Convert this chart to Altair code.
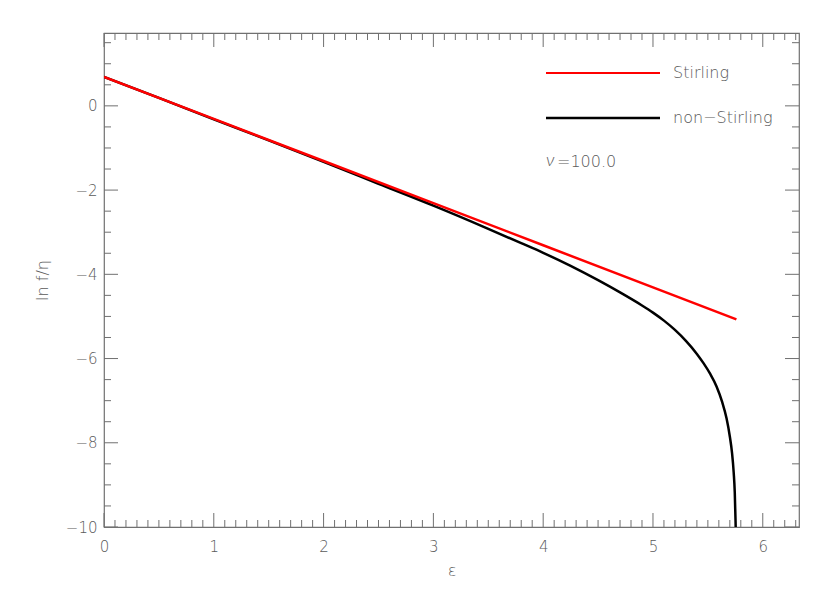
import altair as alt
import pandas as pd
import numpy as np

# ---- data ----
eps_stirling = [0.0, 1.0, 2.0, 3.0, 4.0, 5.0, 5.76]
ln_stirling = [0.69, -0.31, -1.31, -2.31, -3.31, -4.31, -5.07]

eps_non = [0.0, 0.5, 1.0, 1.5, 2.0, 2.5, 3.0, 3.5, 3.8, 4.0, 4.25, 4.5, 4.7,
           4.9, 5.0, 5.1, 5.2, 5.3, 5.4, 5.46, 5.52, 5.58, 5.63, 5.67, 5.70,
           5.72, 5.735, 5.745, 5.752, 5.756]
ln_non = [0.69, 0.19, -0.32, -0.82, -1.33, -1.85, -2.37, -2.92, -3.26, -3.49,
          -3.80, -4.14, -4.43, -4.74, -4.91, -5.10, -5.32, -5.58, -5.89, -6.11,
          -6.36, -6.67, -7.03, -7.42, -7.85, -8.24, -8.70, -9.18, -9.85, -10.3]

x_major = [0, 1, 2, 3, 4, 5, 6]
x_minor = [round(v, 1) for v in np.arange(0.1, 6.31, 0.1) if abs(v - round(v)) > 1e-6]
y_major = [-10, -8, -6, -4, -2, 0]
y_minor = [v for v in np.arange(-9.5, 1.51, 0.5).tolist() if v % 2 != 0]

x_domain = [0, 6.33]
y_domain = [-10, 1.73]

W, H = 695, 494
GRAY = "#5a5a5a"
AXIS_GRAY = "#707070"
FONT = "DejaVu Sans"
FW = 200

xs = alt.Scale(domain=x_domain, nice=False, zero=False)
ys = alt.Scale(domain=y_domain, nice=False, zero=False)

non_df = pd.DataFrame({"eps": eps_non, "ln": ln_non})
sti_df = pd.DataFrame({"eps": eps_stirling, "ln": ln_stirling})

x_axis = alt.Axis(values=x_major, format="d", ticks=False, domain=False, grid=False,
                  labelPadding=12, labelFontSize=15, labelColor=GRAY,
                  labelFont=FONT, labelFontWeight=FW, title="ε",
                  titleFontSize=16, titleColor=GRAY, titleFont=FONT,
                  titleFontWeight=FW, titleY=43, titleBaseline="middle",
                  labelFlush=False)
y_axis = alt.Axis(values=y_major, format="d", ticks=False, domain=False, grid=False,
                  labelPadding=7, labelFontSize=15, labelColor=GRAY,
                  labelFont=FONT, labelFontWeight=FW, title="ln f/η",
                  titleFontSize=16, titleColor=GRAY, titleFont=FONT,
                  titleFontWeight=FW, titleX=-62, titleY=H / 2,
                  titleBaseline="middle", labelFlush=False)

black = alt.Chart(non_df).mark_line(color="black", strokeWidth=2.5, clip=True,
                                    interpolate="monotone").encode(
    x=alt.X("eps:Q", scale=xs, axis=x_axis),
    y=alt.Y("ln:Q", scale=ys, axis=y_axis),
    order="eps:Q",
)
red = alt.Chart(sti_df).mark_line(color="#ff0000", strokeWidth=2.5, clip=True).encode(
    x=alt.X("eps:Q", scale=xs),
    y=alt.Y("ln:Q", scale=ys),
)


def xticks(vals, length):
    df = pd.DataFrame({"v": vals})
    bottom = alt.Chart(df).mark_rule(color=AXIS_GRAY, strokeWidth=1).encode(
        x=alt.X("v:Q", scale=xs), y=alt.value(H), y2=alt.value(H - length))
    top = alt.Chart(df).mark_rule(color=AXIS_GRAY, strokeWidth=1).encode(
        x=alt.X("v:Q", scale=xs), y=alt.value(0), y2=alt.value(length))
    return [bottom, top]


def yticks(vals, length):
    df = pd.DataFrame({"v": vals})
    left = alt.Chart(df).mark_rule(color=AXIS_GRAY, strokeWidth=1).encode(
        y=alt.Y("v:Q", scale=ys), x=alt.value(0), x2=alt.value(length))
    right = alt.Chart(df).mark_rule(color=AXIS_GRAY, strokeWidth=1).encode(
        y=alt.Y("v:Q", scale=ys), x=alt.value(W), x2=alt.value(W - length))
    return [left, right]


tick_layers = xticks(x_major, 14) + xticks(x_minor, 7) + yticks(y_major, 14) + yticks(y_minor, 7)

one = pd.DataFrame({"k": [0]})
leg_red = alt.Chart(one).mark_rule(color="#ff0000", strokeWidth=2).encode(
    x=alt.value(442), x2=alt.value(556), y=alt.value(40))
leg_black = alt.Chart(one).mark_rule(color="black", strokeWidth=2.5).encode(
    x=alt.value(442), x2=alt.value(556), y=alt.value(85))

leg_text_df = pd.DataFrame({"label": ["Stirling", "non−Stirling"], "py": [40, 85]})
leg_text = alt.Chart(leg_text_df).mark_text(
    align="left", baseline="middle", fontSize=16, font=FONT, fontWeight=FW,
    color=GRAY).encode(x=alt.value(569), y=alt.Y("py:Q", scale=None), text="label:N")

nu_df = pd.DataFrame({"label": ["=100.0"]})
nu_sym = alt.Chart(one).mark_text(
    align="left", baseline="middle", fontSize=18, font="Lato", fontWeight=300,
    fontStyle="italic", color=GRAY).encode(x=alt.value(442), y=alt.value(128),
                                           text=alt.value("ν"))
nu_text = alt.Chart(nu_df).mark_text(
    align="left", baseline="middle", fontSize=16, font=FONT, fontWeight=FW,
    color=GRAY).encode(x=alt.value(453), y=alt.value(129), text="label:N")

chart = alt.layer(black, red, *tick_layers, leg_red, leg_black, leg_text, nu_sym, nu_text).properties(
    width=W, height=H,
    autosize=alt.AutoSizeParams(type="none"),
    padding={"left": 96, "top": 25, "right": 20, "bottom": 60},
    background="white",
).configure_view(stroke=AXIS_GRAY, strokeWidth=1.2)

chart.save("out.html", embed_options={"renderer": "svg", "actions": False})
